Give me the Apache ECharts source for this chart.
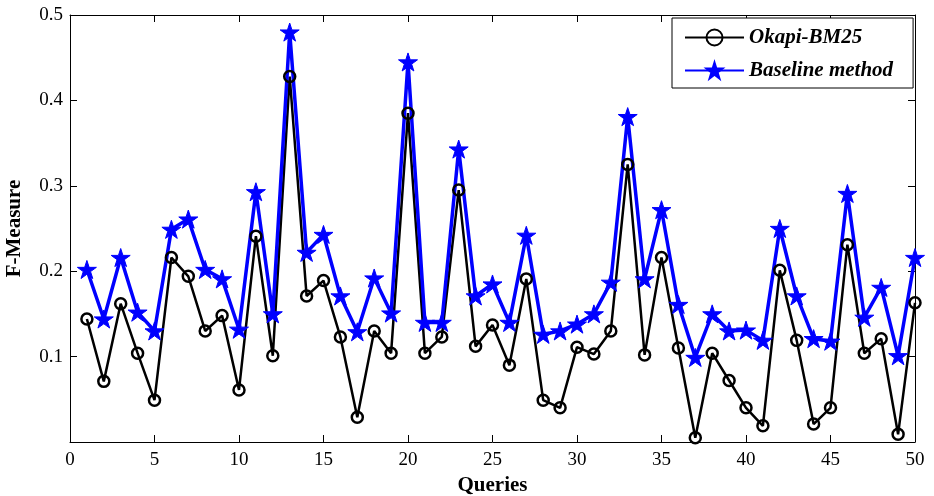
<!DOCTYPE html>
<html>
<head>
<meta charset="utf-8">
<script src="https://cdn.jsdelivr.net/npm/echarts@6/dist/echarts.min.js"></script>
<style>
html,body{margin:0;padding:0;background:#fff;}
#chart{width:934px;height:496px;}
</style>
</head>
<body>
<div id="chart"></div>
<script>
const queries = [1,2,3,4,5,6,7,8,9,10,11,12,13,14,15,16,17,18,19,20,21,22,23,24,25,26,27,28,29,30,31,32,33,34,35,36,37,38,39,40,41,42,43,44,45,46,47,48,49,50];
const okapiBM25 = [0.144,0.071,0.162,0.104,0.049,0.216,0.194,0.130,0.148,0.061,
                   0.241,0.101,0.428,0.171,0.189,0.123,0.029,0.130,0.104,0.385,
                   0.104,0.123,0.295,0.112,0.137,0.090,0.191,0.049,0.040,0.111,
                   0.103,0.130,0.325,0.102,0.216,0.110,0.005,0.104,0.072,0.040,
                   0.019,0.201,0.119,0.021,0.040,0.231,0.104,0.121,0.009,0.163];
const baseline = [0.202,0.144,0.216,0.152,0.130,0.249,0.261,0.202,0.191,0.132,
                  0.293,0.150,0.480,0.222,0.243,0.171,0.129,0.192,0.151,0.445,
                  0.140,0.140,0.343,0.171,0.185,0.140,0.242,0.126,0.130,0.138,
                  0.150,0.187,0.381,0.191,0.272,0.161,0.099,0.150,0.130,0.131,
                  0.119,0.250,0.171,0.121,0.118,0.291,0.146,0.181,0.101,0.216];
const seriesNames = ['Okapi-BM25', 'Baseline method'];
const xTicks = {min: 0, max: 50, interval: 5};
const yTicks = {min: 0, max: 0.5, interval: 0.1};

const STAR = 'path://M100,0 L122.45,69.1 L195.1,69.1 L136.3,111.8 L158.8,180.9 L100,138.2 L41.2,180.9 L63.7,111.8 L4.9,69.1 L77.55,69.1 Z';
const FONT = 'Liberation Serif';

const pairs = (ys) => queries.map((q, i) => [q, ys[i]]);

const chart = echarts.init(document.getElementById('chart'), null, {renderer: 'canvas'});
const axisLine = {show: true, onZero: false, lineStyle: {color: '#000', width: 1}};
const tick = {show: true, inside: true, length: 7, lineStyle: {color: '#000', width: 1}};

chart.setOption({
  animation: false,
  backgroundColor: '#fff',
  grid: {left: 70, right: 19, top: 15, bottom: 54, containLabel: false, outerBoundsMode: 'none'},
  legend: {
    orient: 'vertical',
    left: 672, top: 18,
    padding: [9, 20, 7, 12],
    itemGap: 12,
    itemWidth: 59,
    itemHeight: 20,
    borderColor: '#000',
    borderWidth: 1,
    backgroundColor: '#fff',
    textStyle: {fontFamily: FONT, fontSize: 21, fontWeight: 'bold', fontStyle: 'italic', color: '#000', lineHeight: 20},
    data: seriesNames
  },
  xAxis: [{
    type: 'value', position: 'bottom', ...xTicks,
    name: 'Queries', nameLocation: 'middle', nameGap: 27,
    nameTextStyle: {fontFamily: FONT, fontSize: 21, fontWeight: 'bold', color: '#000'},
    axisLine, axisTick: tick, splitLine: {show: false},
    axisLabel: {fontFamily: FONT, fontSize: 19, color: '#000', margin: 9}
  }, {
    type: 'value', position: 'top', ...xTicks,
    axisLine, axisTick: tick, splitLine: {show: false}, axisLabel: {show: false}
  }],
  yAxis: [{
    type: 'value', position: 'left', ...yTicks,
    name: 'F-Measure', nameLocation: 'middle', nameGap: 45,
    nameTextStyle: {fontFamily: FONT, fontSize: 21, fontWeight: 'bold', color: '#000'},
    axisLine, axisTick: tick, splitLine: {show: false},
    axisLabel: {fontFamily: FONT, fontSize: 19, color: '#000', margin: 7, showMinLabel: false,
      formatter: v => v.toFixed(1)}
  }, {
    type: 'value', position: 'right', ...yTicks,
    axisLine, axisTick: tick, splitLine: {show: false}, axisLabel: {show: false}
  }],
  series: [{
    name: seriesNames[0],
    type: 'line',
    data: pairs(okapiBM25),
    clip: false,
    symbol: 'circle',
    symbolSize: 11,
    color: '#000',
    lineStyle: {color: '#000', width: 2.5},
    itemStyle: {color: 'rgba(0,0,0,0)', borderColor: '#000', borderWidth: 2.5}
  }, {
    name: seriesNames[1],
    type: 'line',
    data: pairs(baseline),
    clip: false,
    symbol: STAR,
    symbolSize: 19,
    symbolKeepAspect: true,
    color: '#0000ff',
    lineStyle: {color: '#0000ff', width: 3.5},
    itemStyle: {color: '#0000ff', borderColor: '#0000ff', borderWidth: 1}
  }]
});
</script>
</body>
</html>
